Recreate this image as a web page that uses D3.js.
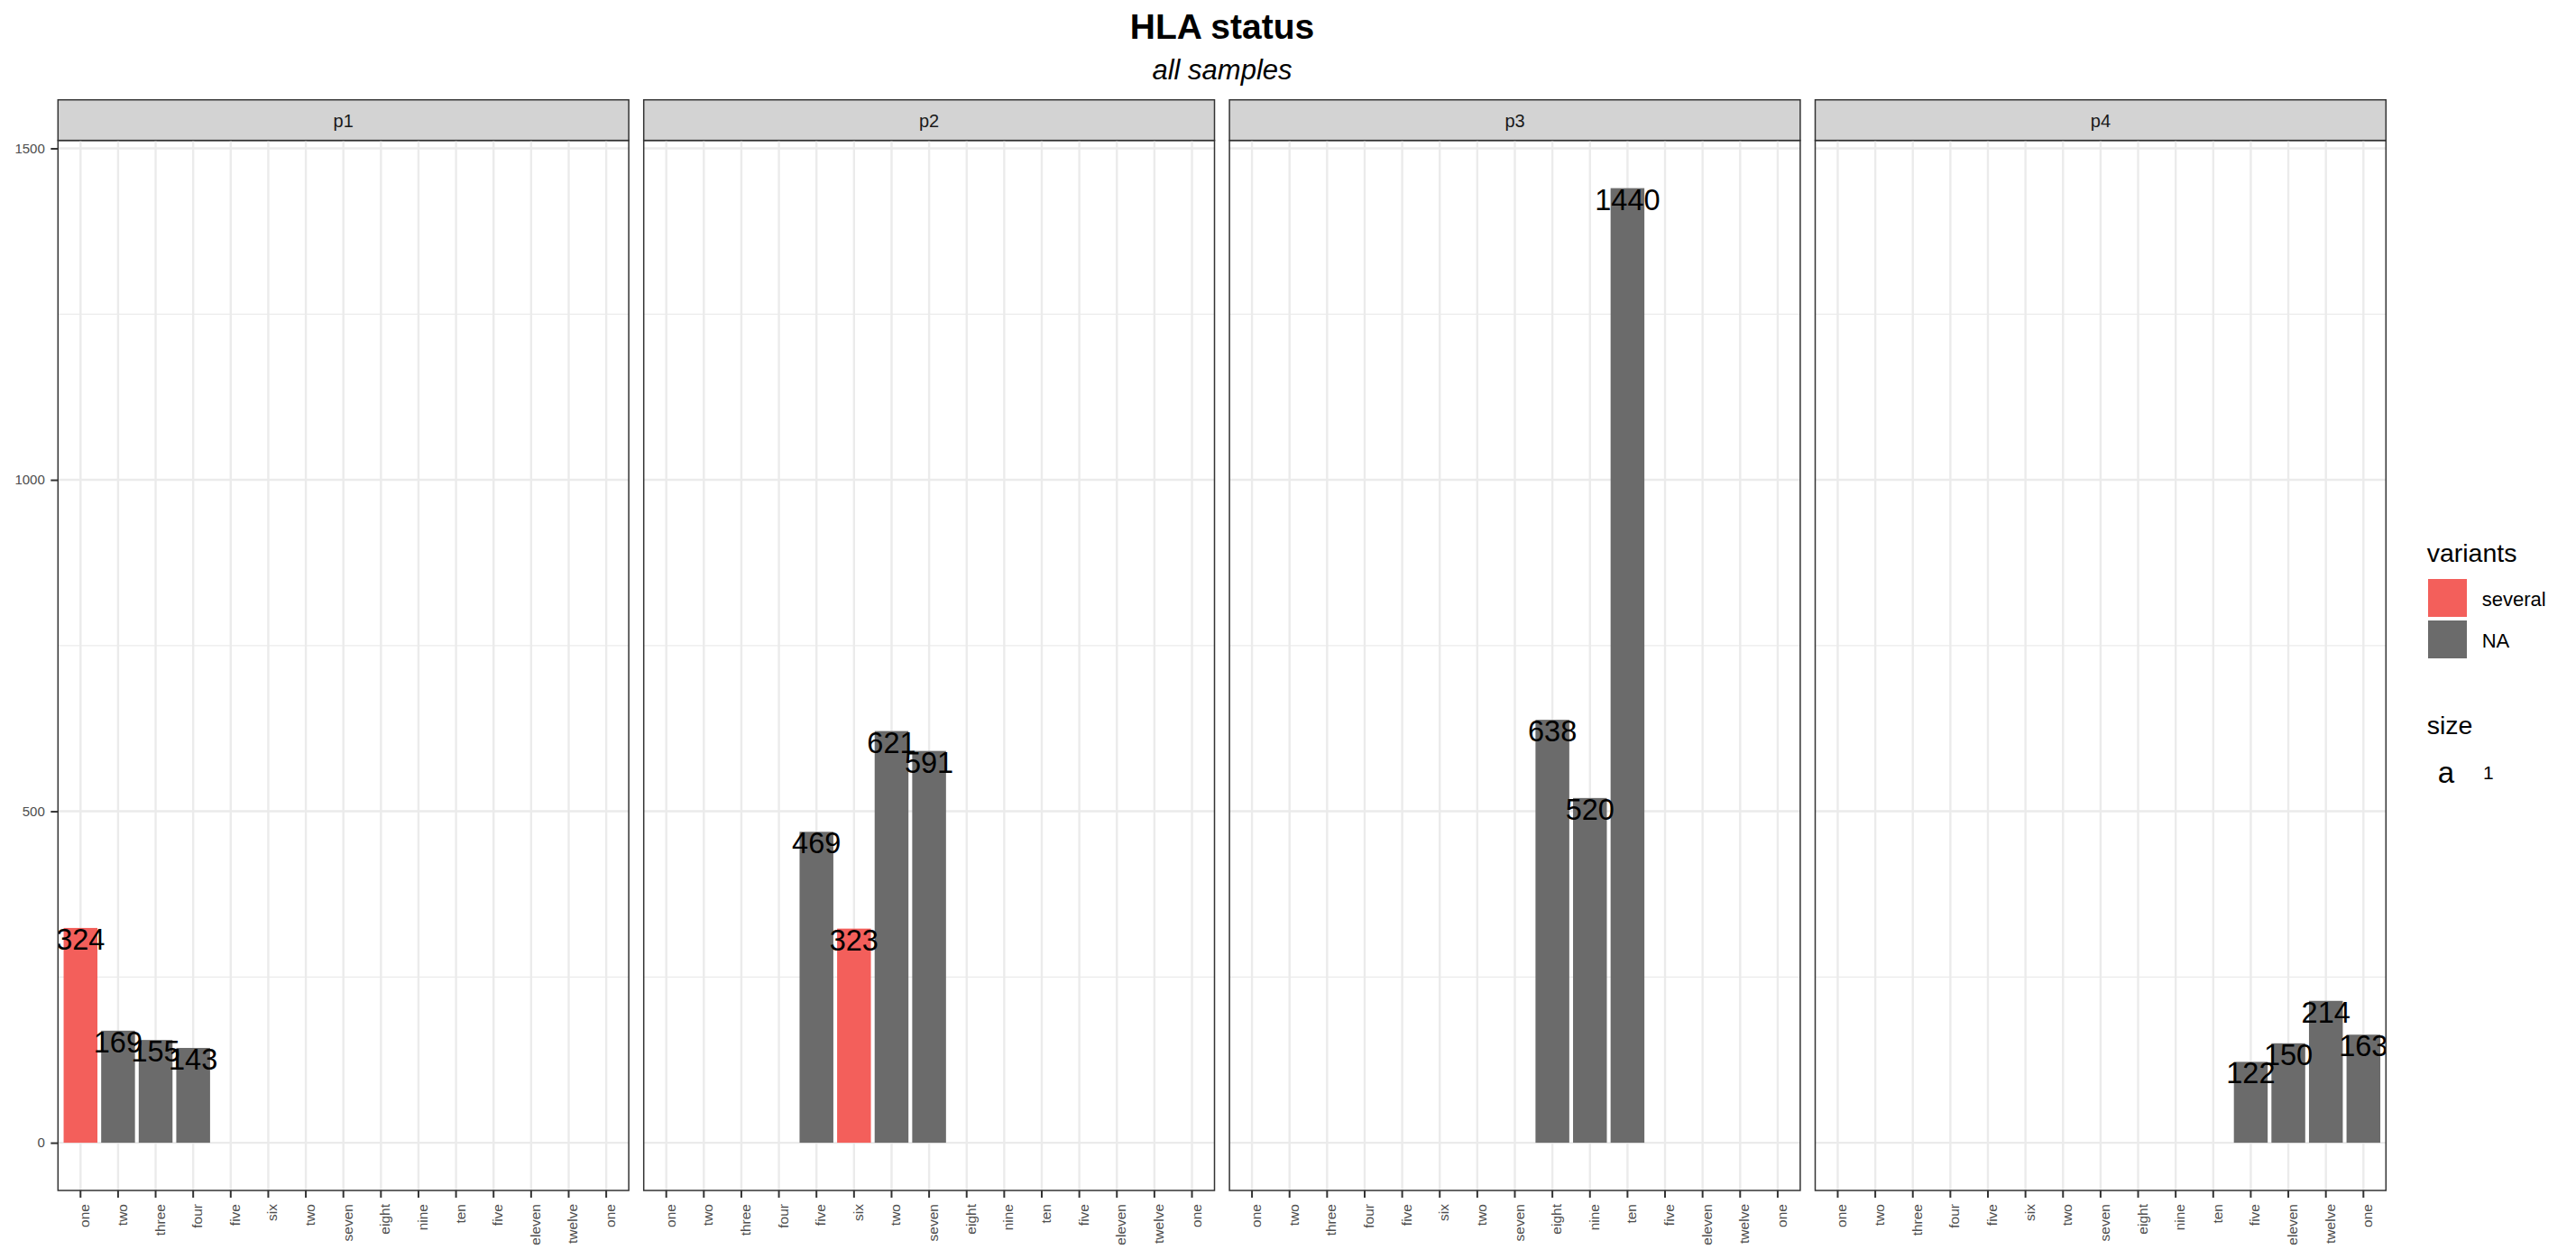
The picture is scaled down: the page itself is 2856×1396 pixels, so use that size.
<!DOCTYPE html>
<html>
<head>
<meta charset="utf-8">
<script src="https://cdn.jsdelivr.net/npm/d3@7"></script>
<style>
  body { margin: 0; background: #fff; }
  svg { display: block; font-family: "Liberation Sans", Arial, Helvetica, sans-serif; }
</style>
</head>
<body>
<svg id="chart" width="2856" height="1396"></svg>
<script>
// x slots shared by every facet (labels repeat on purpose)
var categories = ['one', 'two', 'three', 'four', 'five', 'six', 'two', 'seven', 'eight', 'nine', 'ten', 'five', 'eleven', 'twelve', 'one']
var panels = ['p1', 'p2', 'p3', 'p4']

// per panel: slot index, count, variant
var p1Slots = [0, 1, 2, 3]
var p1Counts = [324, 169, 155, 143]
var p1Variants = ['several', 'NA', 'NA', 'NA']

var p2Slots = [4, 5, 6, 7]
var p2Counts = [469, 323, 621, 591]
var p2Variants = ['NA', 'several', 'NA', 'NA']

var p3Slots = [8, 9, 10]
var p3Counts = [638, 520, 1440]
var p3Variants = ['NA', 'NA', 'NA']

var p4Slots = [11, 12, 13, 14]
var p4Counts = [122, 150, 214, 163]
var p4Variants = ['NA', 'NA', 'NA', 'NA']

var variantLevels = ['several', 'NA']
var variantColors = ['#F35F5B', '#6B6B6B']
var yTicks = [0, 500, 1000, 1500]
var yMinor = [250, 750, 1250]

var panelData = [
  { name: panels[0], slots: p1Slots, counts: p1Counts, variants: p1Variants },
  { name: panels[1], slots: p2Slots, counts: p2Counts, variants: p2Variants },
  { name: panels[2], slots: p3Slots, counts: p3Counts, variants: p3Variants },
  { name: panels[3], slots: p4Slots, counts: p4Counts, variants: p4Variants }
]

var PANEL_LEFT = 64.3
var PANEL_W = 632.8
var PANEL_GAP = 16.6
var STRIP_TOP = 110.7
var PANEL_TOP = 155.7
var PANEL_BOTTOM = 1320

var svg = d3.select('#chart')

var color = d3.scaleOrdinal().domain(variantLevels).range(variantColors)

// ggplot style 5% expansion around 0..1440
var y = d3.scaleLinear().domain([-72, 1512]).range([PANEL_BOTTOM, PANEL_TOP])

// title
svg.append('text')
  .attr('x', 1355).attr('y', 43)
  .attr('text-anchor', 'middle')
  .style('font-size', '39px').style('font-weight', 'bold')
  .text('HLA status')
svg.append('text')
  .attr('x', 1355).attr('y', 88)
  .attr('text-anchor', 'middle')
  .style('font-size', '31px').style('font-style', 'italic')
  .text('all samples')

var defs = svg.append('defs')

panelData.forEach(function(p, k) {
  var left = PANEL_LEFT + k * (PANEL_W + PANEL_GAP)
  var x = d3.scaleBand()
    .domain(d3.range(categories.length))
    .range([left, left + PANEL_W])
    .paddingInner(0.1)
    .paddingOuter(0.15)

  var g = svg.append('g')

  // strip
  g.append('rect')
    .attr('x', left).attr('y', STRIP_TOP)
    .attr('width', PANEL_W).attr('height', PANEL_TOP - STRIP_TOP)
    .attr('fill', '#D3D3D3').attr('stroke', '#333333').attr('stroke-width', 1.5)
  g.append('text')
    .attr('x', left + PANEL_W / 2).attr('y', PANEL_TOP - 15)
    .attr('text-anchor', 'middle')
    .style('font-size', '20px').attr('fill', '#1A1A1A')
    .text(p.name)

  // grid
  g.selectAll('.minor')
    .data(yMinor).enter().append('line')
    .attr('x1', left).attr('x2', left + PANEL_W)
    .attr('y1', function(d) { return y(d) }).attr('y2', function(d) { return y(d) })
    .attr('stroke', '#EBEBEB').attr('stroke-width', 1.2)
  g.selectAll('.major')
    .data(yTicks).enter().append('line')
    .attr('x1', left).attr('x2', left + PANEL_W)
    .attr('y1', function(d) { return y(d) }).attr('y2', function(d) { return y(d) })
    .attr('stroke', '#EBEBEB').attr('stroke-width', 2.4)
  g.selectAll('.vgrid')
    .data(d3.range(categories.length)).enter().append('line')
    .attr('x1', function(d) { return x(d) + x.bandwidth() / 2 })
    .attr('x2', function(d) { return x(d) + x.bandwidth() / 2 })
    .attr('y1', PANEL_TOP).attr('y2', PANEL_BOTTOM)
    .attr('stroke', '#EBEBEB').attr('stroke-width', 2.4)

  // clip marks to the panel
  var clipId = 'clip' + k
  defs.append('clipPath').attr('id', clipId)
    .append('rect')
    .attr('x', left).attr('y', PANEL_TOP)
    .attr('width', PANEL_W).attr('height', PANEL_BOTTOM - PANEL_TOP)

  var marks = g.append('g').attr('clip-path', 'url(#' + clipId + ')')
  var rows = p.slots.map(function(s, i) {
    return { slot: s, count: p.counts[i], variant: p.variants[i] }
  })

  marks.selectAll('rect')
    .data(rows).enter().append('rect')
    .attr('x', function(d) { return x(d.slot) })
    .attr('width', x.bandwidth())
    .attr('y', function(d) { return y(d.count) })
    .attr('height', function(d) { return y(0) - y(d.count) })
    .attr('fill', function(d) { return color(d.variant) })

  marks.selectAll('text')
    .data(rows).enter().append('text')
    .attr('x', function(d) { return x(d.slot) + x.bandwidth() / 2 })
    .attr('y', function(d) { return y(d.count) + 24 })
    .attr('text-anchor', 'middle')
    .style('font-size', '32.5px').attr('fill', '#000')
    .text(function(d) { return d.count })

  // border
  g.append('rect')
    .attr('x', left).attr('y', PANEL_TOP)
    .attr('width', PANEL_W).attr('height', PANEL_BOTTOM - PANEL_TOP)
    .attr('fill', 'none').attr('stroke', '#333333').attr('stroke-width', 1.5)

  // x axis
  var xAxis = g.append('g')
    .attr('transform', 'translate(0,' + PANEL_BOTTOM + ')')
    .call(d3.axisBottom(x).tickSize(8).tickFormat(function(i) { return categories[i] }))
  xAxis.select('.domain').remove()
  xAxis.selectAll('line').attr('stroke', '#333333').attr('stroke-width', 2)
  xAxis.selectAll('text')
    .attr('transform', 'rotate(-90)')
    .attr('x', -15).attr('y', 10).attr('dy', null)
    .attr('text-anchor', 'end')
    .attr('fill', '#4D4D4D')
    .style('font-size', '15.5px')
    .style('font-family', '"Liberation Sans", Arial, Helvetica, sans-serif')

  if (k === 0) {
    var yAxis = g.append('g')
      .attr('transform', 'translate(' + left + ',0)')
      .call(d3.axisLeft(y).tickValues(yTicks).tickFormat(d3.format('d')).tickSize(8).tickPadding(6.5))
    yAxis.select('.domain').remove()
    yAxis.selectAll('line').attr('stroke', '#333333').attr('stroke-width', 2)
    yAxis.selectAll('text')
      .attr('fill', '#4D4D4D')
      .style('font-size', '15px')
      .style('font-family', '"Liberation Sans", Arial, Helvetica, sans-serif')
  }
})

// legends
var legend = svg.append('g')
legend.append('text')
  .attr('x', 2690.7).attr('y', 622.7)
  .style('font-size', '28.5px')
  .text('variants')

var keys = legend.selectAll('.key')
  .data(variantLevels).enter().append('g')
  .attr('transform', function(d, i) { return 'translate(2690,' + (640 + i * 46) + ')' })
keys.append('rect')
  .attr('x', 2).attr('y', 2)
  .attr('width', 43).attr('height', 42)
  .attr('fill', function(d) { return color(d) })
keys.append('text')
  .attr('x', 61.7).attr('y', 31.7)
  .style('font-size', '22px')
  .text(function(d) { return d })

legend.append('text')
  .attr('x', 2690.7).attr('y', 814)
  .style('font-size', '28.5px')
  .text('size')
legend.append('text')
  .attr('x', 2712).attr('y', 868)
  .attr('text-anchor', 'middle')
  .style('font-size', '33px')
  .text('a')
legend.append('text')
  .attr('x', 2753).attr('y', 864)
  .style('font-size', '21px')
  .text('1')
</script>
</body>
</html>
